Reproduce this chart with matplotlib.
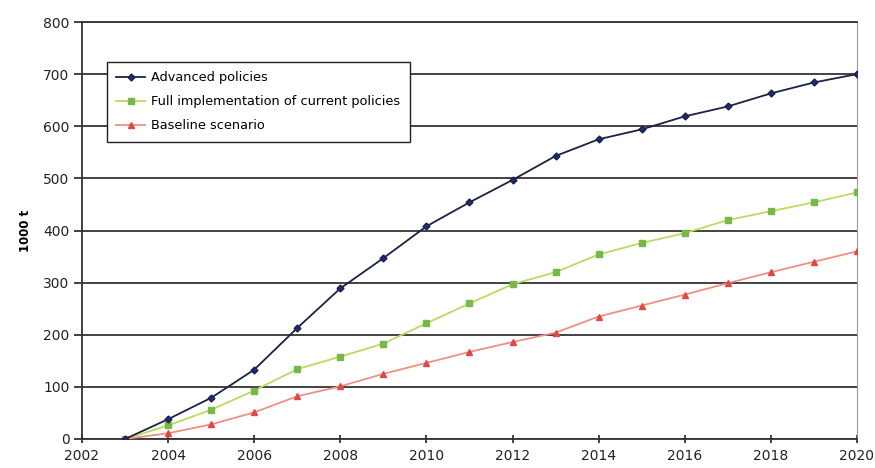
import matplotlib
matplotlib.use("Agg")
import matplotlib.pyplot as plt

years = list(range(2003, 2021))
advanced = [0, 38, 79, 133, 213, 289, 347, 408, 454, 497, 543, 575, 594, 619, 638, 663, 684, 700]
full_impl = [0, 26, 56, 93, 134, 158, 183, 222, 260, 297, 320, 354, 376, 395, 420, 437, 454, 473]
baseline = [0, 11, 28, 51, 82, 101, 125, 146, 167, 186, 204, 235, 256, 277, 299, 320, 340, 360]

series_names = ["Advanced policies", "Full implementation of current policies", "Baseline scenario"]
x_ticks = list(range(2002, 2021, 2))
y_ticks = list(range(0, 801, 100))

plt.rcParams["font.family"] = ["DejaVu Sans"]

fig = plt.figure(figsize=(8.75, 4.68), dpi=100)
ax = fig.add_axes([82 / 875, 1 - 439 / 468, 775 / 875, 417 / 468])

ax.plot(years, advanced, color="#1c2244", lw=1.3, marker="D", ms=3.5,
        mfc="#1c2a80", mec="#1c2244", label=series_names[0], zorder=4)
ax.plot(years, full_impl, color="#b8dc60", lw=1.3, marker="s", ms=3.8,
        mfc="#78b848", mec="#78b848", label=series_names[1], zorder=3)
ax.plot(years, baseline, color="#f09080", lw=1.3, marker="^", ms=4.5,
        mfc="#e04848", mec="#e04848", label=series_names[2], zorder=3)

ax.set_xlim(2002, 2020)
ax.set_ylim(0, 800)
ax.set_xticks(x_ticks)
ax.set_yticks(y_ticks)
ax.grid(axis="y", color="#222222", lw=1.2)
ax.set_axisbelow(True)

for side in ["left", "bottom", "top"]:
    ax.spines[side].set_color("#333333")
    ax.spines[side].set_linewidth(1.3)
ax.spines["right"].set_color("#999999")
ax.spines["right"].set_linewidth(0.8)

ax.tick_params(axis="y", direction="out", length=6, width=1.2, labelsize=10, pad=3, colors="#222222")
ax.tick_params(axis="x", direction="inout", length=6, width=1.2, labelsize=10, pad=4, colors="#222222")

ax.set_ylabel("1000 t", fontsize=8.5, fontweight="bold", labelpad=8)

leg = ax.legend(loc="upper left", bbox_to_anchor=(0.032, 0.905), fontsize=9.3,
                frameon=True, fancybox=False, edgecolor="#222222",
                framealpha=1, borderpad=0.75, labelspacing=0.85,
                handlelength=2.2, handletextpad=0.5, borderaxespad=0)
leg.get_frame().set_linewidth(1.0)

fig.savefig("out.png", dpi=100)
